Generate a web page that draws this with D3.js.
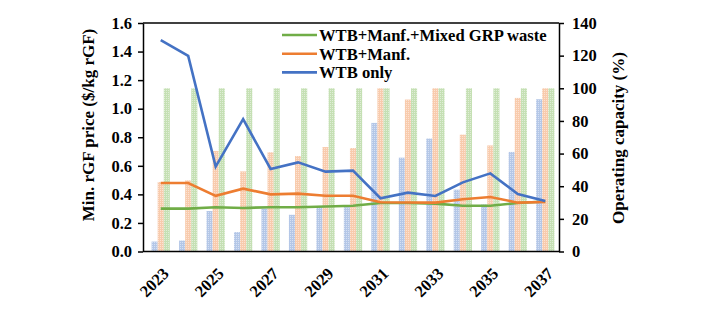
<!DOCTYPE html>
<html>
  <head>
    <meta charset="utf-8">
    <title></title>
  </head>
  <style>
  body{
      margin:0;
      background-color:#fff;
  }
  text{
      font-family: "Liberation Serif", "Times New Roman", serif;
      font-weight: bold;
      fill: #000;
  }
  .axis path, .axis line{
      stroke:#000;
      stroke-width:1.5;
  }
  </style>
  <script src="https://d3js.org/d3.v7.min.js"></script>
  <body>
    <script>
    // categories
    const years = ["2023","2024","2025","2026","2027","2028","2029","2030","2031","2032","2033","2034","2035","2036","2037"]
    const yearLabels = ["2023","2025","2027","2029","2031","2033","2035","2037"]

    // min. rGF price, $/kg (left axis)
    const priceMixed = [0.30,0.30,0.31,0.305,0.31,0.31,0.315,0.32,0.34,0.34,0.335,0.32,0.32,0.34,0.35]
    const priceManf  = [0.48,0.48,0.39,0.44,0.40,0.405,0.39,0.39,0.345,0.343,0.342,0.366,0.382,0.342,0.347]
    const priceWtb   = [1.48,1.37,0.594,0.927,0.578,0.624,0.559,0.566,0.373,0.412,0.389,0.484,0.547,0.403,0.354]

    // operating capacity, % (right axis)
    const capWtb   = [6.1,6.7,24.8,11.9,26.2,22.5,27.2,27.2,78.8,57.5,69.2,37.9,28.9,61,93.3]
    const capManf  = [42.6,43.6,61.6,49.1,60.8,58.5,64,63.4,100,93.1,100,71.6,65,94.1,100]
    const capMixed = [100,100,100,100,100,100,100,100,100,100,100,100,100,100,100]

    const yTicksLeft = [0,0.2,0.4,0.6,0.8,1.0,1.2,1.4,1.6]
    const yTicksRight = [0,20,40,60,80,100,120,140]

    const legendNames = ["WTB+Manf.+Mixed GRP waste","WTB+Manf.","WTB only"]

    var W = 709, H = 321
    var plot = {left:143, right:559, top:23, bottom:251.5}

    var svg = d3.select("body").append("svg")
                .attr("width", W)
                .attr("height", H)

    var lineColors = ["#70ad47", "#ed7d31", "#4472c4"]
    var barColors  = ["#b4c7e7", "#f8cbad", "#c5e0b4"]
    var dotColors  = ["#d6e1f4", "#fce3d3", "#e0eed7"]

    // dotted texture for the bars
    var defs = svg.append("defs")
    barColors.forEach(function(c, i){
        var p = defs.append("pattern")
                    .attr("id", "pat" + i)
                    .attr("width", 2)
                    .attr("height", 2)
                    .attr("patternUnits", "userSpaceOnUse")
        p.append("rect").attr("width", 2).attr("height", 2).attr("fill", c)
        p.append("rect").attr("width", 1).attr("height", 1).attr("fill", dotColors[i])
    })

    var xScale = d3.scaleBand()
                   .domain(years)
                   .range([147, plot.right])

    var yLeft = d3.scaleLinear().domain([0, 1.6]).range([plot.bottom, plot.top])
    var yRight = d3.scaleLinear().domain([0, 140]).range([plot.bottom, plot.top])

    // bars
    var barW = 6.1
    var barSeries = [capWtb, capManf, capMixed]
    barSeries.forEach(function(vals, s){
        svg.append("g").selectAll("rect")
           .data(vals)
           .enter()
           .append("rect")
           .attr("x", function(d, i){ return xScale(years[i]) + xScale.bandwidth()/2 - 1.5*barW + s*barW })
           .attr("y", function(d){ return yRight(d) })
           .attr("width", barW)
           .attr("height", function(d){ return plot.bottom - yRight(d) })
           .attr("fill", "url(#pat" + s + ")")
    })

    // lines
    var linePath = d3.line()
                     .x(function(d, i){ return xScale(years[i]) + xScale.bandwidth()/2 })
                     .y(function(d){ return yLeft(d) })

    var lineSeries = [priceMixed, priceManf, priceWtb]
    lineSeries.forEach(function(vals, s){
        svg.append("path")
           .attr("d", linePath(vals))
           .attr("fill", "none")
           .attr("stroke", lineColors[s])
           .attr("stroke-width", 2.6)
    })

    // top frame line
    svg.append("line")
       .attr("x1", plot.left).attr("x2", plot.right)
       .attr("y1", plot.top).attr("y2", plot.top)
       .attr("stroke", "#000").attr("stroke-width", 1.5)

    // left axis
    var gl = svg.append("g")
       .attr("class", "axis")
       .attr("transform", "translate(" + plot.left + ",0)")
       .call(d3.axisLeft(yLeft).tickValues(yTicksLeft).tickFormat(d3.format(".1f")).tickSize(5).tickSizeOuter(0).tickPadding(6))
    gl.selectAll("text").attr("font-size", "16.5px")

    // right axis
    var gr = svg.append("g")
       .attr("class", "axis")
       .attr("transform", "translate(" + plot.right + ",0)")
       .call(d3.axisRight(yRight).tickValues(yTicksRight).tickSize(5).tickSizeOuter(0).tickPadding(8))
    gr.selectAll("text").attr("font-size", "16.5px")

    // x axis
    svg.append("line")
       .attr("x1", plot.left).attr("x2", plot.right)
       .attr("y1", plot.bottom).attr("y2", plot.bottom)
       .attr("stroke", "#000").attr("stroke-width", 1.5)

    svg.append("g").selectAll("text")
       .data(yearLabels)
       .enter()
       .append("text")
       .text(function(d){ return d })
       .attr("font-size", "16.5px")
       .attr("text-anchor", "end")
       .attr("transform", function(d){
           var x = xScale(d) + xScale.bandwidth()/2 + 5
           return "translate(" + x + "," + (plot.bottom + 19) + ") rotate(-45)"
       })
       .attr("dy", "0.35em")

    // axis titles
    svg.append("text")
       .text("Min. rGF price ($/kg rGF)")
       .attr("font-size", "17px")
       .attr("text-anchor", "middle")
       .attr("transform", "translate(94,125) rotate(-90)")

    svg.append("text")
       .text("Operating capacity (%)")
       .attr("font-size", "17px")
       .attr("text-anchor", "middle")
       .attr("transform", "translate(624,138) rotate(-90)")

    // legend
    var legend = svg.append("g")
    legendNames.forEach(function(name, i){
        var y = 35 + i*18.7
        legend.append("line")
              .attr("x1", 282).attr("x2", 317)
              .attr("y1", y).attr("y2", y)
              .attr("stroke", lineColors[i])
              .attr("stroke-width", 2.6)
        legend.append("text")
              .text(name)
              .attr("x", 319)
              .attr("y", y)
              .attr("dy", "0.35em")
              .attr("font-size", "16.6px")
    })
    </script>
  </body>
</html>
